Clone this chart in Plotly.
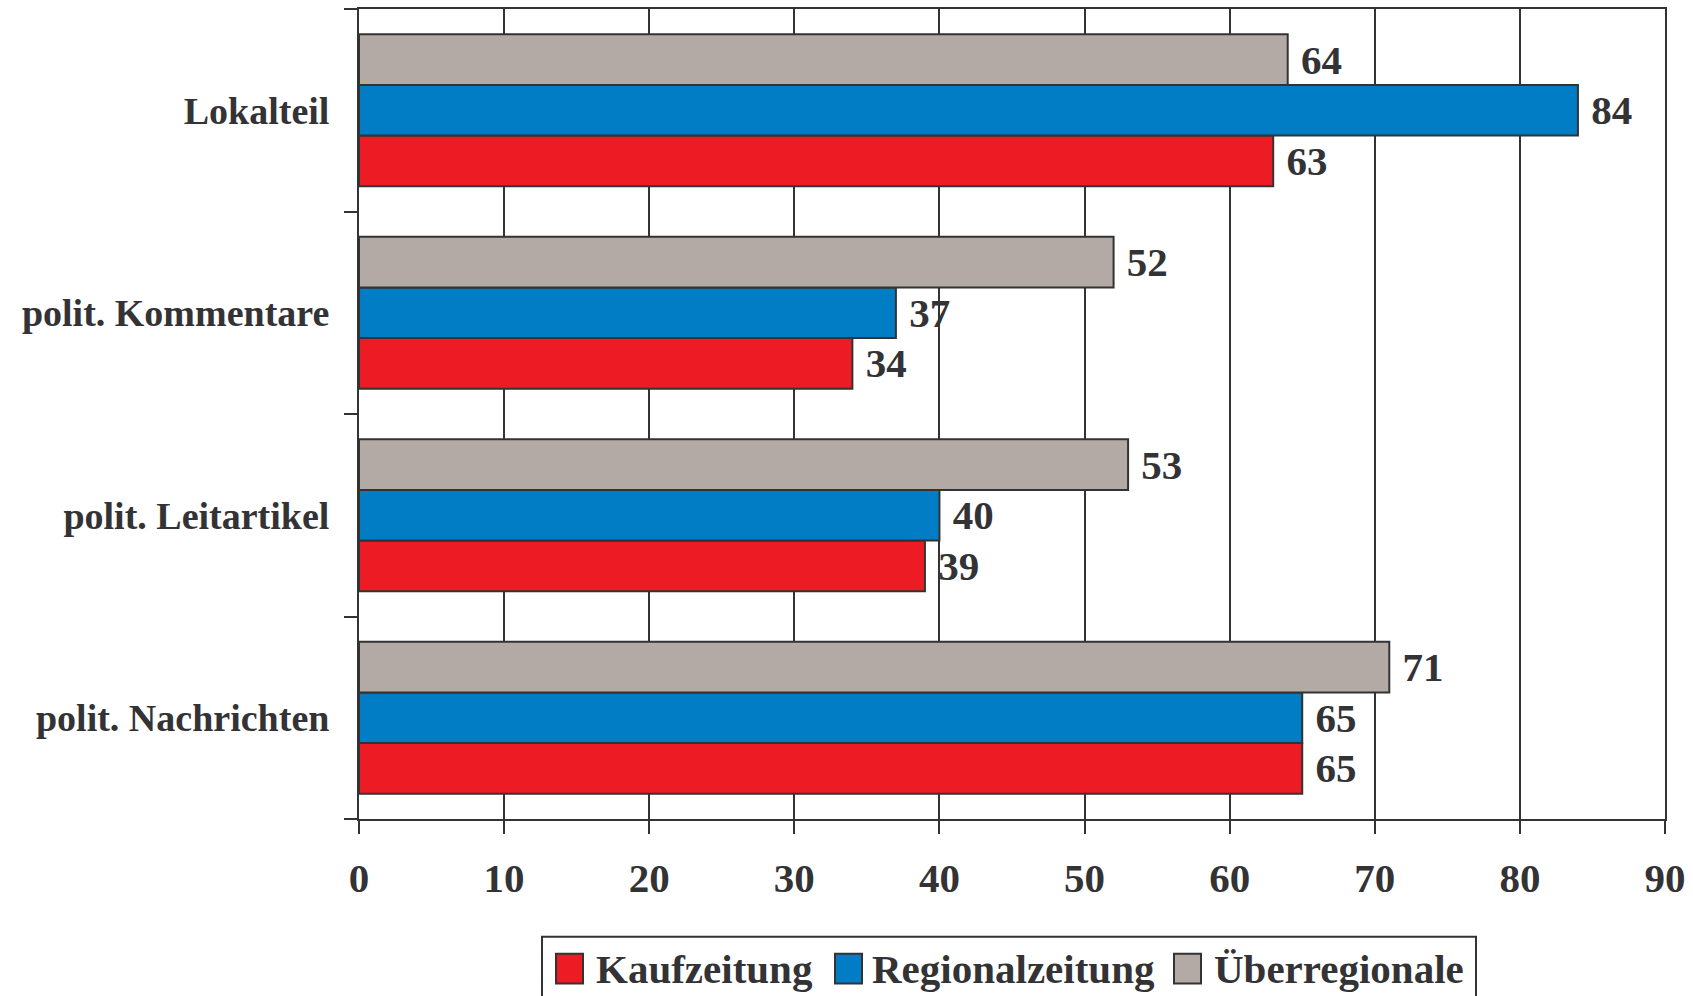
import plotly.graph_objects as go

categories = ["polit. Nachrichten", "polit. Leitartikel", "polit. Kommentare", "Lokalteil"]
kaufzeitung = [65, 39, 34, 63]
regionalzeitung = [65, 40, 37, 84]
ueberregionale = [71, 53, 52, 64]
series_names = ["Kaufzeitung", "Regionalzeitung", "Überregionale"]
series_colors = ["#ED1C24", "#007DC5", "#B3AAA6"]
x_ticks = [0, 10, 20, 30, 40, 50, 60, 70, 80, 90]

W, H = 1693, 996
L, R, T, B = 359, 28, 7, 177
PW, PH = W - L - R, H - T - B
TXT = "#333336"
LINE = "#333333"
FONT = "Liberation Serif"


def px_x(px):
    return (px - L) / PW


def px_y(py):
    return (H - B - py) / PH


fig = go.Figure()
for name, vals, col in zip(series_names, [kaufzeitung, regionalzeitung, ueberregionale], series_colors):
    fig.add_trace(go.Bar(
        y=categories, x=vals, name=name, orientation="h",
        marker=dict(color=col, line=dict(color=LINE, width=2)),
        text=[str(v) for v in vals], textposition="outside",
        texttemplate=" %{text}",
        textfont=dict(family=FONT, size=41, color=TXT, weight="bold"),
        constraintext="none", cliponaxis=False, showlegend=False,
    ))

# legend drawn as layout decoration (box, swatches, labels)
shapes = [dict(type="rect", xref="paper", yref="paper",
               x0=px_x(542), x1=px_x(1476), y0=px_y(1010), y1=px_y(937),
               line=dict(color=LINE, width=2), fillcolor="white", layer="above")]
annotations = []
swatch_left = [556, 835, 1174]
text_left = [594, 870, 1212]
for name, col, sx, tx in zip(series_names, series_colors, swatch_left, text_left):
    shapes.append(dict(type="rect", xref="paper", yref="paper",
                       x0=px_x(sx), x1=px_x(sx + 27), y0=px_y(984), y1=px_y(954),
                       line=dict(color=LINE, width=2), fillcolor=col, layer="above"))
    annotations.append(dict(xref="paper", yref="paper", x=px_x(tx), y=px_y(969),
                            xanchor="left", yanchor="middle", showarrow=False,
                            text=name,
                            font=dict(family=FONT, size=41, color=TXT, weight="bold")))

fig.update_layout(
    width=W, height=H,
    margin=dict(l=L, r=R, t=T, b=B, pad=0),
    paper_bgcolor="white", plot_bgcolor="white",
    barmode="group", bargap=0.25, bargroupgap=0,
    font=dict(family=FONT, color=TXT, weight="bold"),
    xaxis=dict(
        range=[0, 90], tickvals=x_ticks, ticktext=[str(t) for t in x_ticks],
        showgrid=True, gridcolor=LINE, gridwidth=2,
        showline=True, linecolor=LINE, linewidth=2, mirror=True,
        ticks="outside", ticklen=13, tickwidth=2, tickcolor=LINE,
        tickfont=dict(family=FONT, size=41, color=TXT, weight="bold"),
        ticklabelstandoff=9,
        zeroline=False, fixedrange=True,
    ),
    yaxis=dict(
        type="category", categoryorder="array", categoryarray=categories,
        showline=True, linecolor=LINE, linewidth=2, mirror=True,
        ticks="outside", ticklen=13, tickwidth=2, tickcolor=LINE,
        tickson="boundaries", showgrid=False,
        tickfont=dict(family=FONT, size=38, color=TXT, weight="bold"),
        ticklabelstandoff=20,
    ),
    shapes=shapes,
    annotations=annotations,
    showlegend=False,
)

fig.write_html("out.html",
               config={"displayModeBar": False},
               post_script="document.body.style.margin='0';document.body.style.overflow='hidden';")
